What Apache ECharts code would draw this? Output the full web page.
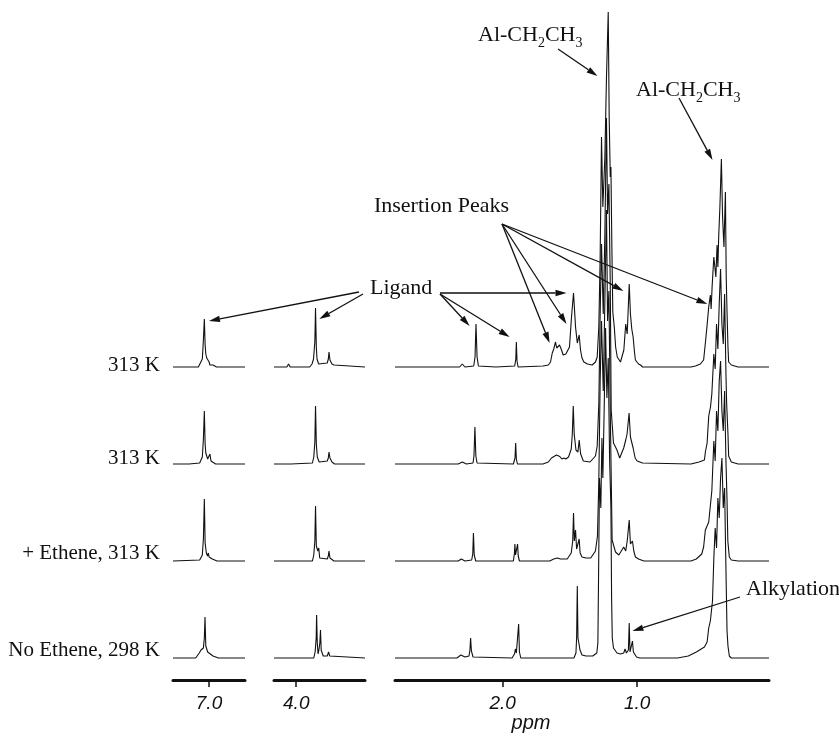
<!DOCTYPE html>
<html><head><meta charset="utf-8">
<script src="https://cdn.jsdelivr.net/npm/echarts@6/dist/echarts.min.js"></script>
<style>html,body{margin:0;padding:0;background:#fff}#c{width:839px;height:742px}</style>
</head><body><div id="c"></div>
<script>
// ---------- axis ranges (ppm) and tick labels ----------
const aroRange = [6.73, 7.27];
const midRange = [3.49, 4.165];
const mainRange = [0.02, 2.80];
const aroTicks = [7.0];
const midTicks = [4.0];
const mainTicks = [1.0, 2.0];
const rowLabels = ['313 K', '313 K', '+ Ethene, 313 K', 'No Ethene, 298 K'];
const axisTitle = 'ppm';

// ---------- spectra: [ppm, intensity] ----------
const aro1 = [[7.27,0],[7.17,0],[7.166,1],[7.16,0],[7.08,0],[7.067,2],[7.05,8],[7.042,27],[7.035,48],[7.029,22],[7.024,13],[7.017,9],[7.011,7],[7.005,10],[6.999,5],[6.993,2],[6.98,3],[6.97,2],[6.955,2],[6.943,0],[6.73,0]];
const aro2 = [[7.27,0],[7.17,0],[7.16,1],[7.15,0],[7.07,1],[7.05,7],[7.042,25],[7.035,53],[7.029,20],[7.024,11],[7.017,11],[7.01,5],[6.993,10],[6.985,3],[6.98,5],[6.97,1],[6.95,0],[6.73,0]];
const aro3 = [[7.27,0],[7.07,1],[7.05,6],[7.042,22],[7.035,62],[7.029,18],[7.02,8],[7.011,5],[7.005,8],[6.999,4],[6.985,6],[6.975,2],[6.96,1],[6.94,0],[6.73,0]];
const aro4 = [[7.27,0],[7.10,0],[7.09,1],[7.073,5],[7.06,8],[7.05,7],[7.042,10],[7.035,20],[7.030,41],[7.024,12],[7.017,10],[7.01,6],[6.998,5],[6.97,2],[6.93,0],[6.73,0]];

const mid1 = [[4.165,0],[4.07,0],[4.057,3],[4.045,0],[3.90,0],[3.883,3],[3.872,8],[3.862,25],[3.857,59],[3.851,20],[3.846,8],[3.834,3],[3.77,4],[3.762,8],[3.757,15],[3.750,7],[3.742,6],[3.735,3],[3.728,5],[3.72,2],[3.71,0],[3.49,0]];
const mid2 = [[4.165,0],[4.06,0],[4.05,2],[4.04,0],[3.88,1],[3.87,7],[3.862,22],[3.857,58],[3.851,20],[3.844,7],[3.83,2],[3.77,3],[3.762,6],[3.757,12],[3.750,6],[3.742,5],[3.735,2],[3.728,3],[3.715,0],[3.49,0]];
const mid3 = [[4.165,0],[3.88,0],[3.87,6],[3.862,20],[3.857,55],[3.851,15],[3.84,10],[3.833,13],[3.826,3],[3.815,2],[3.77,2],[3.762,5],[3.757,10],[3.75,3],[3.74,1],[3.72,0],[3.49,0]];
const mid4 = [[4.165,0],[3.87,0],[3.86,6],[3.852,20],[3.849,43],[3.844,15],[3.838,4],[3.832,8],[3.825,15],[3.820,28],[3.815,8],[3.80,2],[3.77,2],[3.76,6],[3.752,2],[3.74,0],[3.49,0]];

const main1 = [[2.80,0],[2.40,0],[2.32,0],[2.30,3],[2.28,0],[2.215,1],[2.205,10],[2.198,43],[2.19,10],[2.18,1],[2.05,0],[1.91,1],[1.902,8],[1.898,25],[1.893,6],[1.885,0],[1.70,1],[1.66,2],[1.644,5],[1.631,14],[1.62,18],[1.607,25],[1.598,19],[1.589,20],[1.577,22],[1.562,17],[1.55,12],[1.540,10],[1.530,13],[1.520,14],[1.503,20],[1.488,50],[1.473,74],[1.458,40],[1.445,24],[1.431,32],[1.421,17],[1.41,9],[1.396,5],[1.37,3],[1.334,2],[1.31,5],[1.297,10],[1.285,40],[1.275,110],[1.265,230],[1.255,160],[1.24,210],[1.228,290],[1.215,355],[1.208,250],[1.20,190],[1.195,200],[1.188,120],[1.181,55],[1.17,40],[1.16,20],[1.148,10],[1.124,5],[1.099,17],[1.085,43],[1.074,33],[1.059,83],[1.050,53],[1.040,38],[1.030,30],[1.020,15],[1.013,7],[0.99,3],[0.975,2],[0.96,0],[0.60,0],[0.567,1],[0.53,3],[0.506,7],[0.493,24],[0.48,42],[0.468,60],[0.456,72],[0.45,58],[0.443,80],[0.43,110],[0.415,90],[0.406,122],[0.40,100],[0.394,130],[0.385,160],[0.374,208],[0.365,150],[0.355,120],[0.344,175],[0.338,90],[0.332,55],[0.325,20],[0.320,5],[0.30,2],[0.25,0],[0.02,0]];
const main2 = [[2.80,0],[2.33,0],[2.30,2],[2.27,0],[2.22,1],[2.213,8],[2.206,37],[2.199,8],[2.19,1],[1.92,0],[1.908,6],[1.903,21],[1.898,5],[1.89,0],[1.70,0],[1.66,2],[1.637,6],[1.625,5],[1.60,9],[1.59,7],[1.575,7.5],[1.56,5],[1.545,6],[1.53,5],[1.51,7],[1.49,15],[1.482,30],[1.475,58],[1.468,30],[1.455,14],[1.44,12],[1.431,24],[1.42,10],[1.40,3],[1.35,2],[1.31,8],[1.297,18],[1.285,60],[1.275,150],[1.265,220],[1.252,150],[1.24,230],[1.228,346],[1.22,250],[1.21,280],[1.20,180],[1.193,54],[1.176,21],[1.15,14],[1.13,6],[1.10,16],[1.085,24],[1.075,30],[1.06,51],[1.05,27],[1.03,16],[1.015,6],[1.0,3],[0.96,1],[0.60,0],[0.54,2],[0.50,4],[0.493,12],[0.48,21],[0.468,48],[0.455,57],[0.445,70],[0.43,110],[0.42,95],[0.41,140],[0.40,115],[0.39,160],[0.38,195],[0.37,140],[0.36,120],[0.35,170],[0.34,90],[0.335,61],[0.325,30],[0.32,8],[0.30,2],[0.25,0],[0.02,0]];
const main3 = [[2.80,0],[2.33,0],[2.307,2],[2.28,0],[2.23,1],[2.222,7],[2.217,28],[2.211,6],[2.20,0],[1.92,0],[1.912,8],[1.909,17],[1.904,6],[1.893,7],[1.889,17],[1.884,5],[1.875,0],[1.65,0],[1.62,2],[1.594,3],[1.57,2],[1.52,2],[1.49,8],[1.479,20],[1.473,48],[1.467,20],[1.458,31],[1.45,12],[1.44,10],[1.431,22],[1.424,8],[1.41,4],[1.38,3],[1.345,3],[1.31,10],[1.295,25],[1.285,80],[1.275,180],[1.265,240],[1.252,170],[1.24,260],[1.228,351],[1.22,240],[1.21,270],[1.20,150],[1.186,21],[1.161,9],[1.136,6],[1.10,14],[1.085,10],[1.074,20],[1.059,41],[1.05,17],[1.035,20],[1.025,10],[1.013,4],[0.99,2],[0.95,0],[0.60,0],[0.56,2],[0.52,7],[0.506,14],[0.493,31],[0.468,39],[0.456,40],[0.445,70],[0.43,120],[0.42,100],[0.41,150],[0.40,130],[0.39,180],[0.38,200],[0.37,150],[0.36,130],[0.35,170],[0.34,100],[0.332,61],[0.326,20],[0.315,4],[0.30,1],[0.25,0],[0.02,0]];
const main4 = [[2.80,0],[2.34,0],[2.31,3],[2.28,1],[2.25,2],[2.243,8],[2.238,20],[2.232,7],[2.22,1],[2.21,0],[1.93,0],[1.912,4],[1.905,9],[1.898,5],[1.888,7],[1.881,34],[1.875,6],[1.865,0],[1.47,0],[1.455,5],[1.45,20],[1.445,72],[1.44,20],[1.432,14],[1.425,8],[1.41,3],[1.38,2],[1.33,2],[1.30,5],[1.292,15],[1.287,80],[1.28,180],[1.27,150],[1.262,220],[1.255,180],[1.245,250],[1.235,330],[1.225,260],[1.215,300],[1.205,200],[1.195,150],[1.19,60],[1.185,20],[1.176,10],[1.15,5],[1.124,4],[1.10,5],[1.09,9],[1.08,5],[1.065,8],[1.059,35],[1.053,6],[1.045,5],[1.035,17],[1.028,6],[1.015,5],[1.005,1],[0.98,0],[0.70,0],[0.62,2],[0.56,6],[0.50,11],[0.48,16],[0.468,30],[0.456,37],[0.44,57],[0.43,100],[0.42,130],[0.41,110],[0.40,160],[0.39,140],[0.38,180],[0.37,200],[0.36,150],[0.35,170],[0.342,104],[0.332,27],[0.325,12],[0.315,2],[0.30,0],[0.02,0]];

// ---------- annotations: label + arrow tips in data coords {col,row,ppm,int} ----------
const annotations = [
  {text: 'Al-CH{s|2}CH{s|3}', x: 478, y: 35, align: 'left', tails: [[558,49]], tips: [{col:2,row:0,ppm:1.295,int:291}]},
  {text: 'Al-CH{s|2}CH{s|3}', x: 636, y: 90, align: 'left', tails: [[679,98]], tips: [{col:2,row:0,ppm:0.440,int:207}]},
  {text: 'Insertion Peaks', x: 509, y: 206, align: 'right', tails: [[502,224],[502,224],[502,224],[502,224]],
    tips: [{col:2,row:0,ppm:1.651,int:24},{col:2,row:0,ppm:1.525,int:43},{col:2,row:0,ppm:1.102,int:76},{col:2,row:0,ppm:0.478,int:63}]},
  {text: 'Ligand', x: 370, y: 288, align: 'left', tails: [[440,293],[440,294],[440,294],[359,292],[363,294]],
    tips: [{col:2,row:0,ppm:1.525,int:74},{col:2,row:0,ppm:2.245,int:41},{col:2,row:0,ppm:1.948,int:30},{col:0,row:0,ppm:7.0,int:46},{col:1,row:0,ppm:3.829,int:48}]},
  {text: 'Alkylation', x: 746, y: 589, align: 'left', tails: [[740,597]], tips: [{col:2,row:3,ppm:1.035,int:27}]}
];

const baselines = [367, 464, 561, 658];
const cols = [
  {left:173, width:72, range:aroRange, ticks:aroTicks, rows:[aro1,aro2,aro3,aro4]},
  {left:274, width:91, range:midRange, ticks:midTicks, rows:[mid1,mid2,mid3,mid4]},
  {left:395, width:374, range:mainRange, ticks:mainTicks, rows:[main1,main2,main3,main4]}
];
const INK = '#111';

const grid = [], xAxis = [], yAxis = [], series = [];
cols.forEach((c, ci) => {
  c.rows.forEach((d, ri) => {
    const gi = grid.length;
    grid.push({left:c.left, width:c.width, top:baselines[ri]-100, height:100});
    xAxis.push({type:'value', gridIndex:gi, inverse:true, min:c.range[0], max:c.range[1], show:false});
    yAxis.push({type:'value', gridIndex:gi, min:0, max:100, show:false});
    series.push({type:'line', xAxisIndex:gi, yAxisIndex:gi, data:d, showSymbol:false, symbol:'none',
      clip:false, silent:true, lineStyle:{color:INK, width:1.1}});
  });
});
cols.forEach((c) => {
  const gi = grid.length;
  grid.push({left:c.left, width:c.width, top:600, height:80});
  xAxis.push({type:'value', gridIndex:gi, inverse:true, min:c.range[0], max:c.range[1], position:'bottom',
    axisLine:{show:true, lineStyle:{color:INK, width:3}},
    axisTick:{show:true, customValues:c.ticks, length:7, inside:false, lineStyle:{color:INK, width:1.5}},
    axisLabel:{show:true, customValues:c.ticks, formatter:(v)=>Number(v).toFixed(1), margin:14,
      fontFamily:'Liberation Sans', fontStyle:'italic', fontSize:19, color:INK},
    splitLine:{show:false}});
  yAxis.push({type:'value', gridIndex:gi, min:0, max:1, show:false});
});

const chart = echarts.init(document.getElementById('c'), null, {renderer:'canvas'});
chart.setOption({animation:false, backgroundColor:'#fff', grid, xAxis, yAxis, series});

const graphic = [];
const rowLabelY = [365, 458, 553, 650];
rowLabels.forEach((t, i) => {
  graphic.push({type:'text', x:160, y:rowLabelY[i], silent:true,
    style:{text:t, fontFamily:'Liberation Serif', fontSize:21, fill:INK, align:'right', verticalAlign:'middle'}});
});
graphic.push({type:'text', x:531, y:723, silent:true,
  style:{text:axisTitle, fontFamily:'Liberation Sans', fontStyle:'italic', fontSize:20, fill:INK, align:'center', verticalAlign:'middle'}});

function arrow(x1, y1, x2, y2) {
  const dx = x2-x1, dy = y2-y1, L = Math.hypot(dx, dy), ux = dx/L, uy = dy/L;
  const hl = 11, hw = 3.2, bx = x2-ux*hl, by = y2-uy*hl;
  return [
    {type:'line', silent:true, shape:{x1, y1, x2:bx, y2:by}, style:{stroke:INK, lineWidth:1.3}},
    {type:'polygon', silent:true, shape:{points:[[x2,y2],[bx-uy*hw, by+ux*hw],[bx+uy*hw, by-ux*hw]]}, style:{fill:INK}}
  ];
}
annotations.forEach(a => {
  graphic.push({type:'text', x:a.x, y:a.y, silent:true,
    style:{text:a.text, fontFamily:'Liberation Serif', fontSize:22, lineHeight:30, fill:INK, align:a.align, verticalAlign:'middle',
      rich:{s:{fontFamily:'Liberation Serif', fontSize:14, lineHeight:14, verticalAlign:'bottom', fill:INK}}}});
  a.tips.forEach((t, k) => {
    const p = chart.convertToPixel({gridIndex: t.col*4 + t.row}, [t.ppm, t.int]);
    const tail = a.tails[k];
    arrow(tail[0], tail[1], p[0], p[1]).forEach(g => graphic.push(g));
  });
});
chart.setOption({graphic});
</script></body></html>
